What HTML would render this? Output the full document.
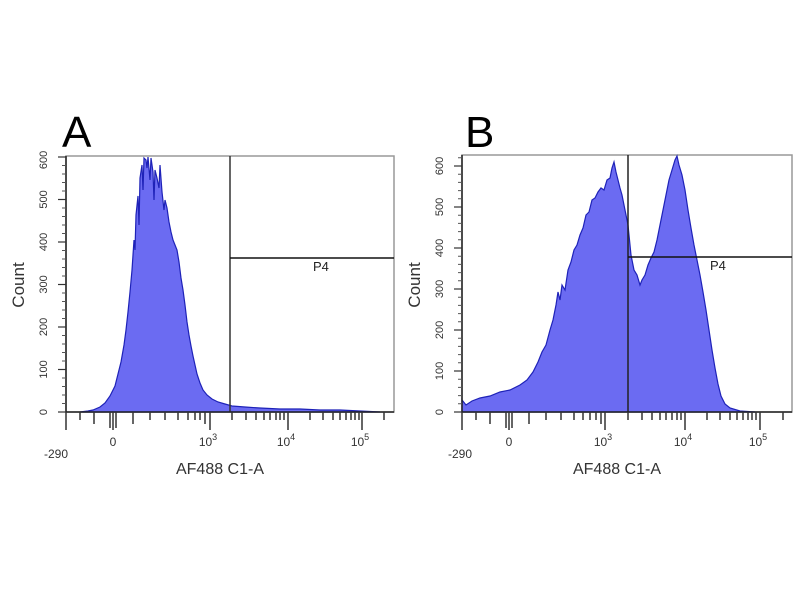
<!DOCTYPE html>
<html><head><meta charset="utf-8"><style>
html,body{margin:0;padding:0;background:#fff;}
svg{display:block;font-family:"Liberation Sans",sans-serif;}
</style></head><body>
<svg width="800" height="600" viewBox="0 0 800 600" xmlns="http://www.w3.org/2000/svg">
<rect width="800" height="600" fill="#fff"/>
<!-- Panel A -->
<text x="62" y="147" font-size="44" fill="#000">A</text>
<rect x="66" y="156" width="328" height="256" fill="none" stroke="#999" stroke-width="1.5"/>
<path d="M80,412 L88,411 L93,410 L100,407 L105,403 L110,396 L115,386 L118,374 L121,362 L124,345 L126,330 L128,312 L130,292 L132,270 L134,240 L135,250 L136,215 L138,196 L139,225 L140,178 L142,165 L143,190 L144,158 L146,160 L147,168 L148,157 L150,180 L151,158 L153,172 L154,200 L155,170 L157,178 L159,188 L160,165 L162,192 L164,210 L165,200 L167,208 L169,222 L171,232 L173,240 L175,245 L177,250 L179,262 L181,278 L183,290 L185,305 L187,322 L189,335 L191,346 L193,356 L195,365 L197,374 L200,383 L203,390 L207,395 L212,399 L218,402 L225,404 L232,406 L245,407 L260,408 L280,409 L300,409 L320,410 L340,410 L360,411 L380,412 Z" fill="#6b6bf2" stroke="#1e22b8" stroke-width="1.2"/>
<line x1="230" y1="156" x2="230" y2="412" stroke="#333" stroke-width="1.5"/>
<line x1="230" y1="258" x2="394" y2="258" stroke="#111" stroke-width="1.5"/>
<text x="313" y="271" font-size="13" fill="#222">P4</text>
<line x1="66" y1="156" x2="66" y2="412" stroke="#222" stroke-width="1.5"/>
<line x1="66" y1="412" x2="394" y2="412" stroke="#222" stroke-width="1.5"/>
<g stroke="#333" stroke-width="1.5">
<line x1="66" y1="412" x2="66" y2="430"/><line x1="80" y1="412" x2="80" y2="420"/><line x1="94" y1="412" x2="94" y2="424"/>
<line x1="110" y1="412" x2="110" y2="428"/><line x1="113" y1="412" x2="113" y2="430"/><line x1="116" y1="412" x2="116" y2="428"/>
<line x1="133" y1="412" x2="133" y2="424"/><line x1="150" y1="412" x2="150" y2="420"/><line x1="165" y1="412" x2="165" y2="420"/>
<line x1="178" y1="412" x2="178" y2="420"/><line x1="188" y1="412" x2="188" y2="420"/><line x1="195" y1="412" x2="195" y2="420"/>
<line x1="200" y1="412" x2="200" y2="420"/><line x1="205" y1="412" x2="205" y2="424"/><line x1="210" y1="412" x2="210" y2="430"/>
<line x1="232" y1="412" x2="232" y2="420"/><line x1="246" y1="412" x2="246" y2="420"/><line x1="256" y1="412" x2="256" y2="420"/>
<line x1="264" y1="412" x2="264" y2="420"/><line x1="270" y1="412" x2="270" y2="420"/><line x1="276" y1="412" x2="276" y2="420"/>
<line x1="280" y1="412" x2="280" y2="420"/><line x1="284" y1="412" x2="284" y2="420"/><line x1="288" y1="412" x2="288" y2="430"/>
<line x1="310" y1="412" x2="310" y2="420"/><line x1="323" y1="412" x2="323" y2="420"/><line x1="333" y1="412" x2="333" y2="420"/>
<line x1="340" y1="412" x2="340" y2="420"/><line x1="346" y1="412" x2="346" y2="420"/><line x1="351" y1="412" x2="351" y2="420"/>
<line x1="355" y1="412" x2="355" y2="420"/><line x1="359" y1="412" x2="359" y2="420"/><line x1="362" y1="412" x2="362" y2="430"/>
<line x1="384" y1="412" x2="384" y2="420"/>
</g>
<g stroke="#333" stroke-width="1.2">
<line x1="58" y1="412" x2="66" y2="412"/><line x1="58" y1="369.5" x2="66" y2="369.5"/><line x1="58" y1="327" x2="66" y2="327"/>
<line x1="58" y1="284.5" x2="66" y2="284.5"/><line x1="58" y1="242" x2="66" y2="242"/><line x1="58" y1="199.5" x2="66" y2="199.5"/><line x1="58" y1="157" x2="66" y2="157"/>
</g>
<g stroke="#555" stroke-width="1">
<path d="M62,403.5H66M62,395H66M62,386.5H66M62,378H66M62,361H66M62,352.5H66M62,344H66M62,335.5H66M62,318.5H66M62,310H66M62,301.5H66M62,293H66M62,276H66M62,267.5H66M62,259H66M62,250.5H66M62,233.5H66M62,225H66M62,216.5H66M62,208H66M62,191H66M62,182.5H66M62,174H66M62,165.5H66"/>
</g>
<g font-size="11" fill="#333" text-anchor="middle">
<text transform="translate(47,412) rotate(-90)">0</text>
<text transform="translate(47,369.5) rotate(-90)">100</text>
<text transform="translate(47,327) rotate(-90)">200</text>
<text transform="translate(47,284.5) rotate(-90)">300</text>
<text transform="translate(47,242) rotate(-90)">400</text>
<text transform="translate(47,199.5) rotate(-90)">500</text>
<text transform="translate(47,160) rotate(-90)">600</text>
</g>
<text transform="translate(24,285) rotate(-90)" font-size="17" fill="#333" text-anchor="middle">Count</text>
<g font-size="12" fill="#333" text-anchor="middle">
<text x="56" y="458">-290</text><text x="113" y="446">0</text>
<text x="208" y="446">10<tspan font-size="9" dy="-6">3</tspan></text>
<text x="286" y="446">10<tspan font-size="9" dy="-6">4</tspan></text>
<text x="360" y="446">10<tspan font-size="9" dy="-6">5</tspan></text>
</g>
<text x="220" y="474" font-size="16" fill="#333" text-anchor="middle">AF488 C1-A</text>

<!-- Panel B -->
<text x="465" y="147" font-size="44" fill="#000">B</text>
<rect x="462" y="155" width="330" height="257" fill="none" stroke="#999" stroke-width="1.5"/>
<path d="M462,412 L462,400 L466,405 L472,401 L480,398 L490,396 L500,392 L510,390 L520,385 L527,380 L533,372 L538,362 L542,352 L546,345 L550,330 L553,320 L556,305 L558,292 L560,300 L562,285 L565,290 L568,270 L571,262 L574,250 L577,245 L580,235 L583,228 L586,215 L589,212 L592,200 L595,198 L598,192 L601,188 L604,190 L607,180 L610,178 L612,168 L614,162 L616,172 L618,180 L620,188 L622,195 L625,210 L628,225 L631,255 L634,270 L637,275 L640,285 L642,280 L645,275 L648,265 L651,258 L654,252 L657,240 L660,225 L663,210 L666,195 L669,180 L672,170 L675,160 L677,156 L679,165 L682,175 L685,190 L688,210 L691,228 L694,245 L697,260 L700,275 L703,292 L706,310 L709,330 L712,350 L715,368 L718,384 L721,396 L725,404 L730,408 L740,411 L755,412 Z" fill="#6b6bf2" stroke="#1e22b8" stroke-width="1.2"/>
<line x1="628" y1="155" x2="628" y2="412" stroke="#222" stroke-width="1.5"/>
<line x1="628" y1="257" x2="792" y2="257" stroke="#111" stroke-width="1.5"/>
<text x="710" y="270" font-size="13" fill="#222">P4</text>
<line x1="462" y1="155" x2="462" y2="412" stroke="#222" stroke-width="1.5"/>
<line x1="462" y1="412" x2="792" y2="412" stroke="#222" stroke-width="1.5"/>
<g stroke="#333" stroke-width="1.5">
<line x1="462" y1="412" x2="462" y2="430"/><line x1="476" y1="412" x2="476" y2="420"/><line x1="490" y1="412" x2="490" y2="424"/>
<line x1="506" y1="412" x2="506" y2="428"/><line x1="509" y1="412" x2="509" y2="430"/><line x1="512" y1="412" x2="512" y2="428"/>
<line x1="529" y1="412" x2="529" y2="424"/><line x1="546" y1="412" x2="546" y2="420"/><line x1="561" y1="412" x2="561" y2="420"/>
<line x1="574" y1="412" x2="574" y2="420"/><line x1="583" y1="412" x2="583" y2="420"/><line x1="590" y1="412" x2="590" y2="420"/>
<line x1="596" y1="412" x2="596" y2="420"/><line x1="601" y1="412" x2="601" y2="424"/><line x1="605" y1="412" x2="605" y2="430"/>
<line x1="628" y1="412" x2="628" y2="420"/><line x1="642" y1="412" x2="642" y2="420"/><line x1="652" y1="412" x2="652" y2="420"/>
<line x1="660" y1="412" x2="660" y2="420"/><line x1="666" y1="412" x2="666" y2="420"/><line x1="672" y1="412" x2="672" y2="420"/>
<line x1="677" y1="412" x2="677" y2="420"/><line x1="681" y1="412" x2="681" y2="420"/><line x1="685" y1="412" x2="685" y2="430"/>
<line x1="707" y1="412" x2="707" y2="420"/><line x1="720" y1="412" x2="720" y2="420"/><line x1="730" y1="412" x2="730" y2="420"/>
<line x1="737" y1="412" x2="737" y2="420"/><line x1="743" y1="412" x2="743" y2="420"/><line x1="748" y1="412" x2="748" y2="420"/>
<line x1="752" y1="412" x2="752" y2="420"/><line x1="756" y1="412" x2="756" y2="420"/><line x1="760" y1="412" x2="760" y2="430"/>
<line x1="783" y1="412" x2="783" y2="420"/>
</g>
<g stroke="#333" stroke-width="1.2">
<line x1="454" y1="412" x2="462" y2="412"/><line x1="454" y1="371" x2="462" y2="371"/><line x1="454" y1="330" x2="462" y2="330"/>
<line x1="454" y1="289" x2="462" y2="289"/><line x1="454" y1="248" x2="462" y2="248"/><line x1="454" y1="207" x2="462" y2="207"/><line x1="454" y1="166" x2="462" y2="166"/>
</g>
<g stroke="#555" stroke-width="1">
<path d="M458,403.8H462M458,395.6H462M458,387.4H462M458,379.2H462M458,362.8H462M458,354.6H462M458,346.4H462M458,338.2H462M458,321.8H462M458,313.6H462M458,305.4H462M458,297.2H462M458,280.8H462M458,272.6H462M458,264.4H462M458,256.2H462M458,239.8H462M458,231.6H462M458,223.4H462M458,215.2H462M458,198.8H462M458,190.6H462M458,182.4H462M458,174.2H462M458,157.8H462"/>
</g>
<g font-size="11" fill="#333" text-anchor="middle">
<text transform="translate(443,412) rotate(-90)">0</text>
<text transform="translate(443,371) rotate(-90)">100</text>
<text transform="translate(443,330) rotate(-90)">200</text>
<text transform="translate(443,289) rotate(-90)">300</text>
<text transform="translate(443,248) rotate(-90)">400</text>
<text transform="translate(443,207) rotate(-90)">500</text>
<text transform="translate(443,166) rotate(-90)">600</text>
</g>
<text transform="translate(420,285) rotate(-90)" font-size="17" fill="#333" text-anchor="middle">Count</text>
<g font-size="12" fill="#333" text-anchor="middle">
<text x="460" y="458">-290</text><text x="509" y="446">0</text>
<text x="603" y="446">10<tspan font-size="9" dy="-6">3</tspan></text>
<text x="683" y="446">10<tspan font-size="9" dy="-6">4</tspan></text>
<text x="758" y="446">10<tspan font-size="9" dy="-6">5</tspan></text>
</g>
<text x="617" y="474" font-size="16" fill="#333" text-anchor="middle">AF488 C1-A</text>
</svg>
</body></html>
